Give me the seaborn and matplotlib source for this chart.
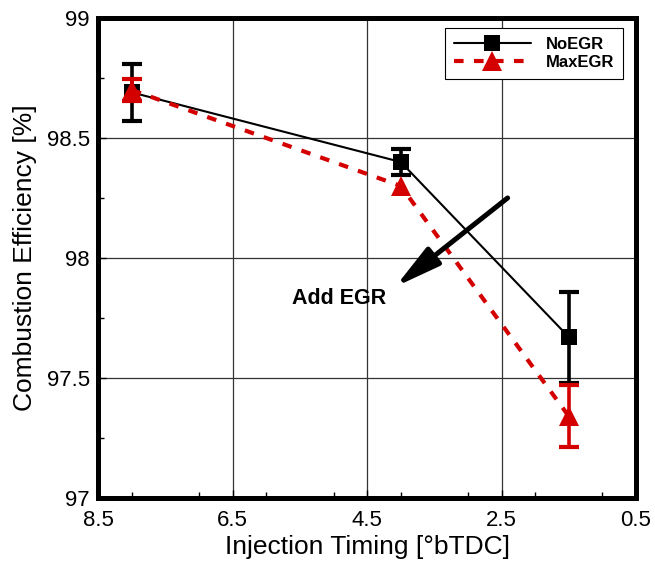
import matplotlib
matplotlib.use("Agg")
import matplotlib.pyplot as plt
import seaborn as sns
import pandas as pd
import numpy as np
from matplotlib.lines import Line2D
from matplotlib.ticker import MultipleLocator

# Data
timing = [8.0, 4.0, 1.5]
noegr = [98.69, 98.40, 97.67]
noegr_err = [0.12, 0.055, 0.19]
maxegr = [98.70, 98.30, 97.34]
maxegr_err = [0.045, 0.0, 0.13]
series_names = ["NoEGR", "MaxEGR"]
xticks = [8.5, 6.5, 4.5, 2.5, 0.5]
xticklabels = ["8.5", "6.5", "4.5", "2.5", "0.5"]
yticks = [97, 97.5, 98, 98.5, 99]
yticklabels = ["97", "97.5", "98", "98.5", "99"]

sns.set_theme(style="white")
plt.rcParams['font.family'] = ['Liberation Sans', 'DejaVu Sans']
plt.rcParams['text.color'] = 'black'
plt.rcParams['axes.labelcolor'] = 'black'

df = pd.DataFrame({
    "timing": timing * 2,
    "eff": noegr + maxegr,
    "series": [series_names[0]] * 3 + [series_names[1]] * 3,
})

RED = "#d40000"

fig = plt.figure(figsize=(6.55, 5.65), dpi=100)
ax = fig.add_axes([0.150, 0.119, 0.821, 0.849])

ax.set_xlim(8.5, 0.5)
ax.set_ylim(97, 99)
ax.set_xticks(xticks)
ax.set_xticklabels(xticklabels)
ax.set_yticks(yticks)
ax.set_yticklabels(yticklabels)
ax.xaxis.set_minor_locator(MultipleLocator(1))
ax.yaxis.set_minor_locator(MultipleLocator(0.25))
ax.grid(True, which="major", color="#333333", linewidth=0.9, zorder=0)

# NoEGR
sub = df[df.series == "NoEGR"]
sns.lineplot(data=sub, x="timing", y="eff", ax=ax, color="black", linewidth=1.5,
             marker="s", markersize=11, markeredgewidth=0, sort=False,
             errorbar=None, legend=False, zorder=3)
ax.errorbar(timing, noegr, yerr=noegr_err, fmt="none", ecolor="black",
            elinewidth=2.6, capsize=7, capthick=3, zorder=3)

# MaxEGR
sub = df[df.series == "MaxEGR"]
sns.lineplot(data=sub, x="timing", y="eff", ax=ax, color=RED, linewidth=3.0,
             linestyle=(0, (2.3, 2.5)), marker="^", markersize=14, markeredgewidth=0,
             sort=False, errorbar=None, legend=False, zorder=4)
mx = [t for t, e in zip(timing, maxegr_err) if e > 0]
my = [v for v, e in zip(maxegr, maxegr_err) if e > 0]
me = [e for e in maxegr_err if e > 0]
ax.errorbar(mx, my, yerr=me, fmt="none", ecolor=RED,
            elinewidth=2.6, capsize=7, capthick=3, zorder=4)

# annotation
ax.annotate("", xy=(4.08, 97.88), xytext=(2.41, 98.25),
            arrowprops=dict(arrowstyle="-|>,head_length=2.3,head_width=0.55",
                            color="black", lw=3.6, shrinkA=0, shrinkB=0), zorder=5)
ax.text(4.92, 97.83, "Add EGR", fontsize=15.5, fontweight="bold", ha="center",
        va="center", color="black", zorder=5)

ax.set_xlabel("Injection Timing [°bTDC]", fontsize=19, labelpad=3, color="black")
ax.set_ylabel("Combustion Efficiency [%]", fontsize=19, labelpad=7, color="black")
ax.tick_params(axis="both", which="major", direction="in", length=6, width=1,
               labelsize=16, colors="black", bottom=True, left=True)
ax.tick_params(axis="x", which="major", pad=9)
ax.tick_params(axis="y", which="major", pad=6)
ax.tick_params(axis="both", which="minor", direction="in", length=4, width=1,
               color="black", bottom=True, left=True)
for s in ax.spines.values():
    s.set_linewidth(3.6)
    s.set_color("black")
    s.set_zorder(6)

handles = [
    Line2D([], [], color="black", linewidth=1.5, marker="s", markersize=11, markeredgewidth=0),
    Line2D([], [], color=RED, linewidth=3.0, linestyle=(0, (2.3, 2.5)), marker="^",
           markersize=14, markeredgewidth=0),
]
leg = ax.legend(handles, series_names, loc="upper right", bbox_to_anchor=(0.976, 0.979),
                borderaxespad=0, frameon=True, fancybox=False, edgecolor="black",
                framealpha=1, prop={"weight": "bold", "size": 12}, handlelength=4.6,
                borderpad=0.55, labelspacing=0.15, handletextpad=0.9)
leg.get_frame().set_linewidth(0.8)
leg.set_zorder(7)
for t in leg.get_texts():
    t.set_color("black")

fig.savefig("out.png", dpi=100)
